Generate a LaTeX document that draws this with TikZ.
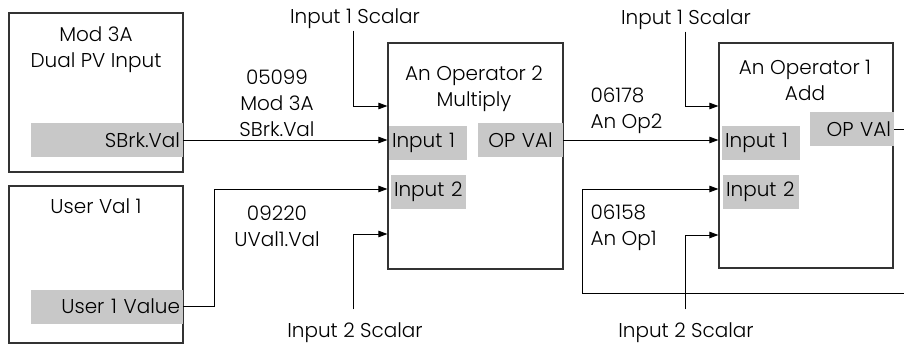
\documentclass[tikz,border=0pt]{standalone}
\usepackage{fontspec}
\setmainfont{Poppins Light}
\usetikzlibrary{arrows.meta,positioning}
\usepackage{xcolor}
\definecolor{portgray}{RGB}{200,200,200}

\begin{document}
\begin{tikzpicture}[
  x=1pt, y=-1pt,
  font=\fontsize{20}{26}\selectfont,
  block/.style={draw=black!80, line width=1.2pt, minimum width=#1},
  port/.style={fill=portgray, minimum height=34pt, inner xsep=3pt, text width=#1},
  title/.style={align=center},
  note/.style={align=center},
  wire/.style={line width=0.9pt},
  arr/.style={wire, -{Triangle[length=9pt, width=6.5pt]}},
]
  \useasboundingbox (0,0) rectangle (904,345);
  \clip (0,0) rectangle (904,345);

  % Source blocks
  \node[block=174pt, minimum height=159pt] (mod) at (96, 92.5) {};
  \node[title] (modt) at (96, 50) {Mod 3A\\Dual PV Input};
  \node[port=146pt, align=right] (sbrk) at (107, 140) {SBrk.Val};

  \node[block=174pt, minimum height=157pt] (uval) at (96, 264.5) {};
  \node[title] (uvalt) at (96, 206) {User Val 1};
  \node[port=146pt, align=right] (uout) at (107, 306.5) {User 1 Value};

  % An Operator 2
  \node[block=175pt, minimum height=226pt] (op2) at (475.5, 156) {};
  \node[title] (op2t) at (474, 89) {An Operator 2\\Multiply};
  \node[port=72pt, align=left] (op2in1) at (428, 143) {Input 1};
  \node[port=69pt, align=left] (op2in2) at (428.5, 191.5) {Input 2};
  \node[port=79pt, align=center] (op2out) at (520.5, 140) {OP VAl};

  % An Operator 1
  \node[block=174pt, minimum height=225pt] (op1) at (806, 155.5) {};
  \node[title] (op1t) at (805, 80) {An Operator 1\\Add};
  \node[port=72pt, align=left] (op1in1) at (761, 143) {Input 1};
  \node[port=70pt, align=left] (op1in2) at (761, 191.5) {Input 2};
  \node[port=78pt, align=right] (op1out) at (852, 129) {OP VAl};

  % Scalar labels
  \node (s1a) at (355, 19) {Input 1 Scalar};
  \node (s2a) at (355, 333) {Input 2 Scalar};
  \node (s1b) at (686, 20) {Input 1 Scalar};
  \node (s2b) at (686, 333) {Input 2 Scalar};

  % Wire labels
  \node[note] (w1) at (277, 103) {05099\\Mod 3A\\SBrk.Val};
  \node[note] (w2) at (277, 226.5) {09220\\UVal1.Val};
  \node[note, align=left, anchor=west] (w3) at (587, 111) {06178\\An Op2};
  \node[note, align=left, anchor=west] (w4) at (587, 228) {06158\\An Op1};

  % Feedback corners
  \coordinate (fbr) at (912, 293);
  \coordinate (fbl) at (582, 293);

  % Connections into An Operator 2
  \draw[arr] ([xshift=-2pt,yshift=2pt]s1a.south) |- ([yshift=50pt]op2.west);
  \draw[arr] (sbrk.east) -- (sbrk.east -| op2.west);
  \draw[arr] (uout.east) -- ++(31,0) |- ([yshift=-33pt]op2.west);
  \draw[arr] ([xshift=-2pt,yshift=10pt]s2a.north) |- ([yshift=-78pt]op2.west);

  % Connections into An Operator 1
  \draw[arr] ([xshift=-1pt,yshift=2pt]s1b.south) |- ([yshift=49.5pt]op1.west);
  \draw[arr] (op2out.east) -- (op2out.east -| op1.west);
  \draw[arr] (op1out.east) -| (fbr) -- (fbl) |- ([yshift=-33.5pt]op1.west);
  \draw[arr] ([xshift=-1pt,yshift=10pt]s2b.north) |- ([yshift=-79.5pt]op1.west);
\end{tikzpicture}
\end{document}
